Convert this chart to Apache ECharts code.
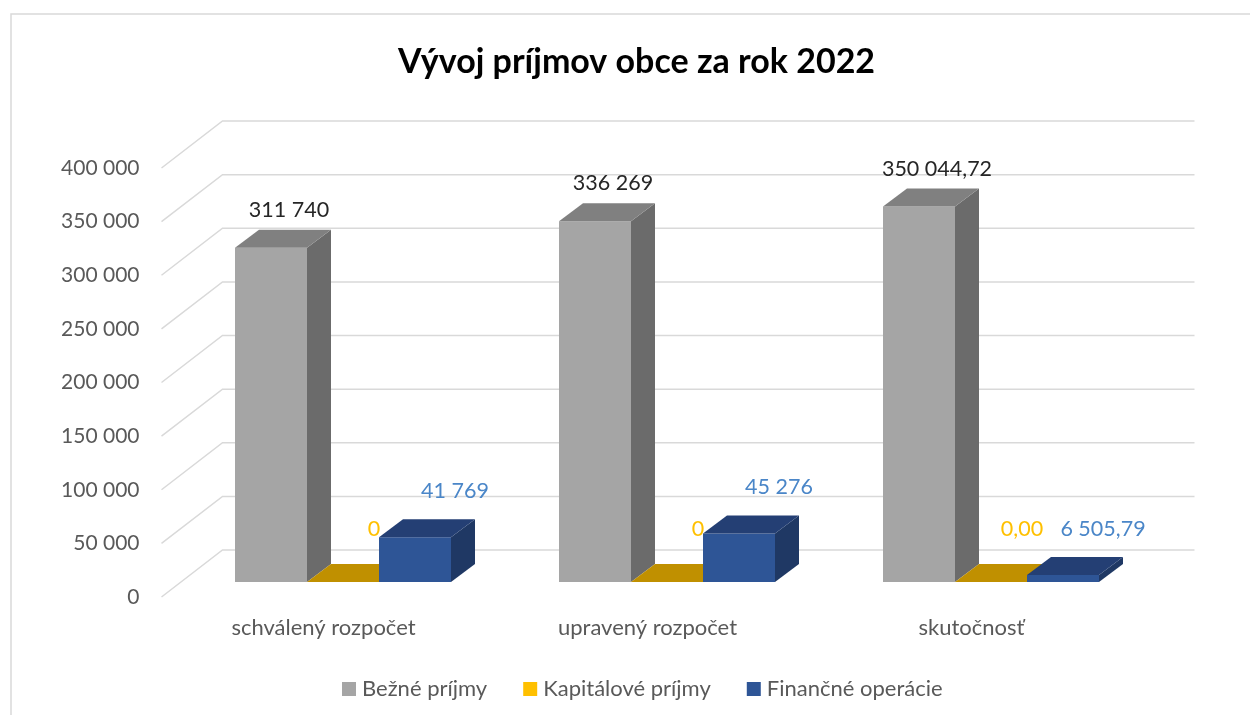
<!DOCTYPE html>
<html>
<head>
<meta charset="utf-8">
<title>Vývoj príjmov obce za rok 2022</title>
<script src="https://cdn.jsdelivr.net/npm/echarts@6/dist/echarts.min.js"></script>
<style>
    html, body { margin: 0; padding: 0; background: #fff; }
    #main { width: 1250px; height: 715px; }
</style>
</head>
<body>
<div id="main"></div>
<script>
    // data
    var categories = ['schválený rozpočet', 'upravený rozpočet', 'skutočnosť'];
    var seriesNames = ['Bežné príjmy', 'Kapitálové príjmy', 'Finančné operácie'];
    var bezne = [311740, 336269, 350044.72];
    var kapitalove = [0, 0, 0];
    var financne = [41769, 45276, 6505.79];
    var labelDecimals = [0, 0, 2]; // excel shows decimals only for skutočnosť
    var yTicks = [0, 50000, 100000, 150000, 200000, 250000, 300000, 350000, 400000];

    var FONT = 'Lato';
    var DX = 24, DY = -18;          // bar depth
    var WALL_BACK = [41.5, -32];    // from bar plane to back wall
    var WALL_FRONT = [-19.5, 15];   // from bar plane to front edge

    // front, side, top, label colour
    var palette = [
        {front: '#a5a5a5', side: '#6b6b6b', top: '#808080', label: '#262626', legend: '#a5a5a5', ldx: 6, ldy: -20},
        {front: '#ffc000', side: '#bf9000', top: '#c09000', label: '#ffc000', legend: '#ffc000', ldx: 19, ldy: -35},
        {front: '#2e5596', side: '#1f3864', top: '#243f74', label: '#4a86c8', legend: '#2e5596', ldx: 28, ldy: -28}
    ];

    function fmt(v, dec) {
        var s = v.toFixed(dec);
        var parts = s.split('.');
        var intPart = parts[0].replace(/\B(?=(\d{3})+(?!\d))/g, ' ');
        return parts.length > 1 ? intPart + ',' + parts[1] : intPart;
    }

    var chart = echarts.init(document.getElementById('main'));

    var gridRender = function (params, api) {
        var cs = params.coordSys;
        var v = api.value(0);
        var y = api.coord([0, v])[1];
        var x0 = cs.x;
        var x1 = cs.x + cs.width;
        return {
            type: 'group',
            children: [
                {
                    type: 'polyline',
                    shape: {
                        points: [
                            [x0 + WALL_FRONT[0], y + WALL_FRONT[1]],
                            [x0 + WALL_BACK[0], y + WALL_BACK[1]],
                            [x1 + WALL_BACK[0], y + WALL_BACK[1]]
                        ]
                    },
                    style: {stroke: '#d9d9d9', lineWidth: 1.5, fill: null}
                },
                {
                    type: 'text',
                    x: x0 + WALL_FRONT[0] - 22,
                    y: y + WALL_FRONT[1],
                    style: {
                        text: fmt(v, 0),
                        fill: '#595959',
                        font: '21px ' + FONT,
                        align: 'right',
                        verticalAlign: 'middle'
                    }
                }
            ]
        };
    };

    var barRender = function (idx) {
        var c = palette[idx];
        return function (params, api) {
            var cat = api.value(0);
            var val = api.value(1);
            var base = api.coord([cat, 0]);
            var top = api.coord([cat, val]);
            var band = api.size([1, 0])[0];
            var w = band * 2 / 9;
            var x0 = base[0] - band / 3 + idx * w;
            var x1 = x0 + w;
            var by = base[1], ty = top[1];
            return {
                type: 'group',
                children: [
                    {
                        type: 'polygon',
                        shape: {points: [[x1, ty], [x1 + DX, ty + DY], [x1 + DX, by + DY], [x1, by]]},
                        style: {fill: c.side}
                    },
                    {
                        type: 'rect',
                        shape: {x: x0, y: ty, width: w, height: by - ty},
                        style: {fill: c.front}
                    },
                    {
                        type: 'polygon',
                        shape: {points: [[x0, ty], [x1, ty], [x1 + DX, ty + DY], [x0 + DX, ty + DY]]},
                        style: {fill: c.top}
                    },
                    {
                        type: 'text',
                        x: x0 + (w + DX) / 2 + c.ldx,
                        y: ty + DY + c.ldy,
                        style: {
                            text: fmt(val, labelDecimals[cat]),
                            fill: c.label,
                            font: '21.5px ' + FONT,
                            align: 'center',
                            verticalAlign: 'middle'
                        }
                    }
                ]
            };
        };
    };

    var values = [bezne, kapitalove, financne];
    var series = [{
        name: 'grid',
        type: 'custom',
        renderItem: gridRender,
        data: yTicks.map(function (t) { return [t]; }),
        encode: {y: 0},
        silent: true
    }];
    for (var i = 0; i < values.length; i++) {
        series.push({
            name: seriesNames[i],
            type: 'custom',
            renderItem: barRender(i),
            itemStyle: {color: palette[i].legend},
            encode: {x: 0, y: 1},
            data: values[i].map(function (v, k) { return [k, v]; })
        });
    }

    var option = {
        animation: false,
        title: {
            text: 'Vývoj príjmov obce za rok 2022',
            left: 393,
            top: 40,
            textStyle: {fontFamily: FONT, fontSize: 34, fontWeight: 'bold', color: '#000'}
        },
        graphic: [{
            type: 'rect',
            shape: {x: 11, y: 14, width: 1300, height: 800},
            style: {fill: null, stroke: '#d9d9d9', lineWidth: 1.5},
            silent: true
        }],
        legend: {
            data: seriesNames,
            left: 337,
            top: 673,
            icon: 'rect',
            itemWidth: 14,
            itemHeight: 14,
            itemGap: 36,
            textStyle: {fontFamily: FONT, fontSize: 22, color: '#595959', padding: [0, 0, 0, 1]}
        },
        grid: {left: 181, right: 97, top: 153, bottom: 133},
        xAxis: {
            type: 'category',
            data: categories,
            axisLine: {show: false},
            axisTick: {show: false},
            axisLabel: {
                margin: 35,
                fontFamily: FONT,
                fontSize: 22,
                color: '#595959',
                padding: [0, 39, 0, 0]
            }
        },
        yAxis: {
            type: 'value',
            min: 0,
            max: 400000,
            interval: 50000,
            axisLabel: {show: false},
            axisLine: {show: false},
            axisTick: {show: false},
            splitLine: {show: false}
        },
        series: series
    };

    chart.setOption(option);
</script>
</body>
</html>
